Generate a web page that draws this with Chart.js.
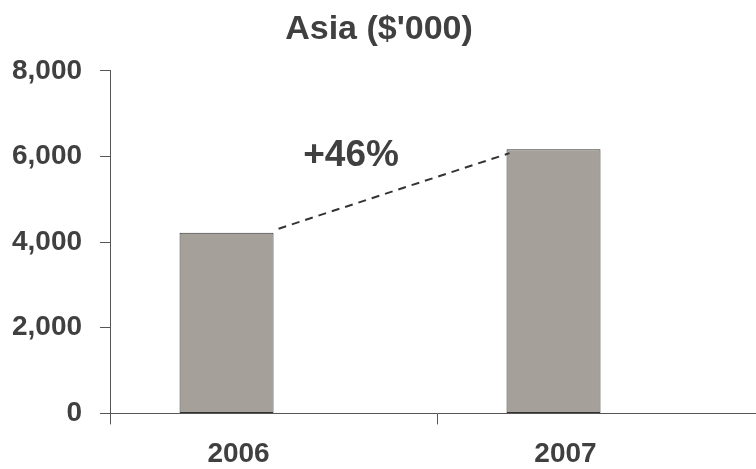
<!DOCTYPE html>
<html>
<head>
<meta charset="utf-8">
<title>Asia ($'000)</title>
<script src="https://cdn.jsdelivr.net/npm/chart.js@4/dist/chart.umd.min.js"></script>
<style>
    html, body { margin: 0; padding: 0; background: #fff; overflow: hidden; }
    #wrap { width: 770px; height: 469px; }
</style>
</head>
<body>
<div id="wrap"><canvas id="asiaChart"></canvas></div>
<script>
const years = ['2006', '2007']
const revenue = [4220, 6170]
const yTicks = [0, 2000, 4000, 6000, 8000]
const growthLabel = '+46%'

const textColor = '#404040'
const axisColor = '#555555'
const fontFamily = "'Liberation Sans', Arial, Helvetica, sans-serif"

/**
 * @name growthArrow
 * @description Dashed connector between the two bar tops with the growth label above it.
 */
const growthArrow = {
    id: 'growthArrow',
    afterDatasetsDraw(chart) {
        const bars = chart.getDatasetMeta(0).data
        if (bars.length < 2) return
        const ctx = chart.ctx
        const a = bars[0]
        const b = bars[1]
        const x1 = a.x + a.width / 2 + 5
        const y1 = a.y - 4
        const x2 = b.x - b.width / 2 + 3
        const y2 = b.y + 4

        ctx.save()
        ctx.strokeStyle = '#333333'
        ctx.lineWidth = 2
        ctx.setLineDash([8, 6])
        ctx.beginPath()
        ctx.moveTo(x1, y1)
        ctx.lineTo(x2, y2)
        ctx.stroke()
        ctx.setLineDash([])

        const y = chart.scales.y
        ctx.fillStyle = textColor
        ctx.font = 'bold 37px ' + fontFamily
        ctx.textAlign = 'center'
        ctx.textBaseline = 'middle'
        ctx.fillText(growthLabel, (x1 + x2) / 2 - 43, y.getPixelForValue(6000) - 1)
        ctx.restore()
    },
}

new Chart(document.getElementById('asiaChart'), {
    type: 'bar',
    data: {
        labels: years,
        datasets: [
            {
                label: "Asia ($'000)",
                data: revenue,
                backgroundColor: '#a6a09b',
                borderColor: '#333333',
                borderWidth: 1,
                borderSkipped: false,
                categoryPercentage: 0.575,
                barPercentage: 1.0,
            },
            {
                // empty slot keeps the bars on the left side of each category
                label: 'spacer',
                data: [null, null],
                categoryPercentage: 0.575,
                barPercentage: 1.0,
            },
        ],
    },
    options: {
        responsive: true,
        maintainAspectRatio: false,
        animation: false,
        events: [],
        layout: { padding: { left: -6, right: 6, top: 0, bottom: -15 } },
        plugins: {
            legend: { display: false },
            tooltip: { enabled: false },
            title: {
                display: true,
                text: "Asia ($'000)",
                color: textColor,
                font: { family: fontFamily, size: 34, weight: 'bold' },
                padding: { top: 9, bottom: 21 },
            },
        },
        scales: {
            x: {
                offset: true,
                grid: { offset: true, drawOnChartArea: false, tickLength: 11, color: axisColor },
                border: { color: axisColor, width: 1 },
                ticks: {
                    color: textColor,
                    labelOffset: -35,
                    padding: 13,
                    font: { family: fontFamily, size: 28, weight: 'bold' },
                },
            },
            y: {
                min: yTicks[0],
                max: yTicks[yTicks.length - 1],
                afterBuildTicks(scale) {
                    scale.ticks = yTicks.map(v => ({ value: v }))
                },
                grid: { drawOnChartArea: false, tickLength: 10, color: axisColor },
                border: { color: axisColor, width: 1 },
                ticks: {
                    color: textColor,
                    padding: 18,
                    font: { family: fontFamily, size: 28, weight: 'bold' },
                    callback: v => v.toLocaleString('en-US'),
                },
            },
        },
    },
    plugins: [growthArrow],
})
</script>
</body>
</html>
